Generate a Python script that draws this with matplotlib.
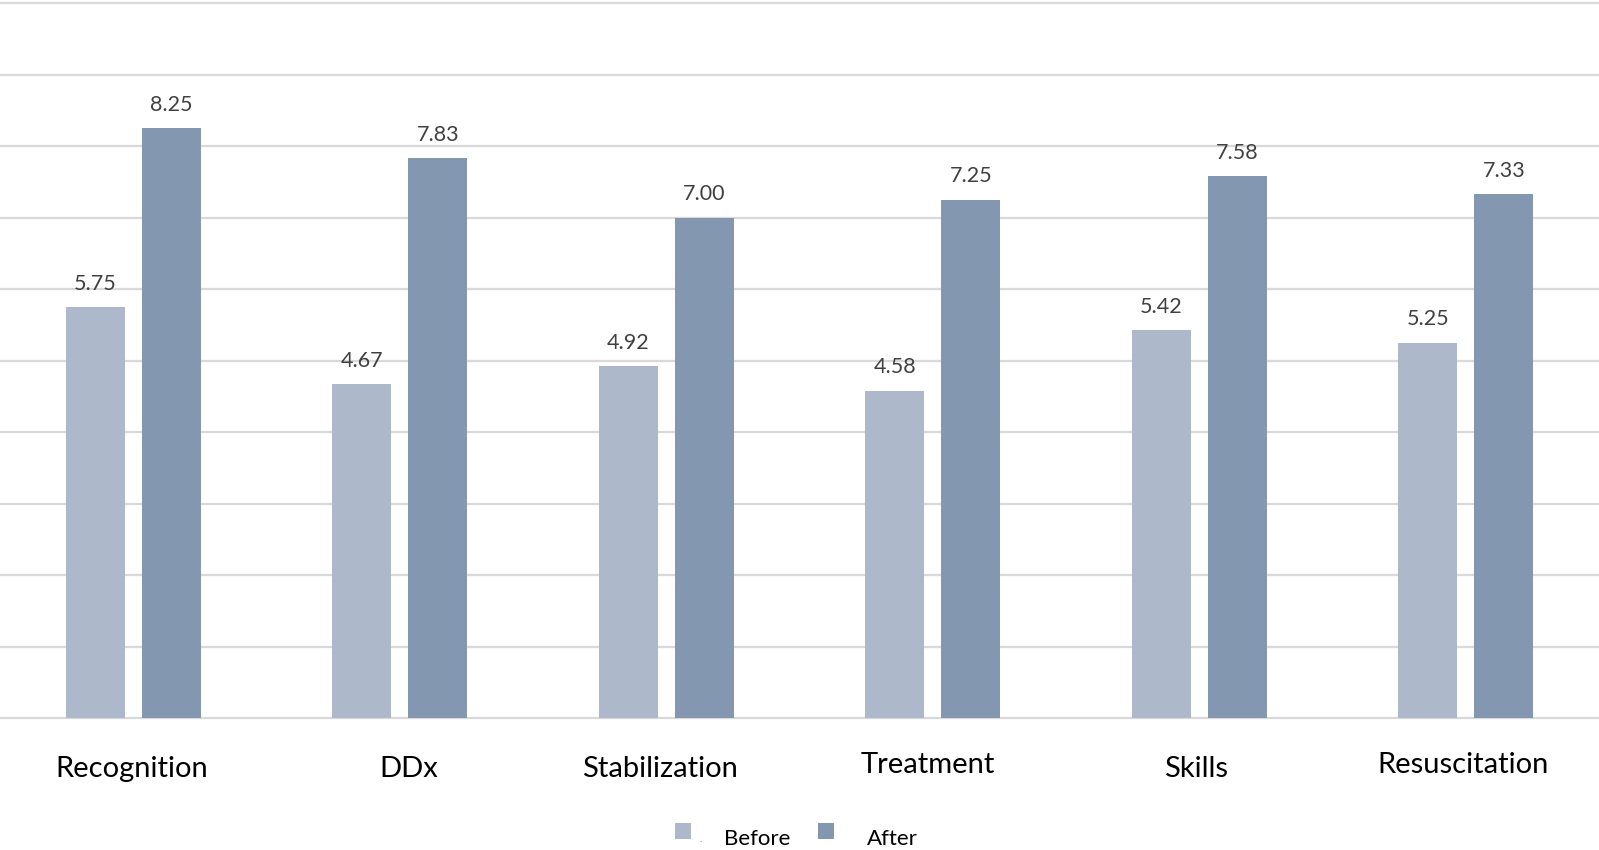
import matplotlib
matplotlib.use("Agg")
import matplotlib.pyplot as plt
import numpy as np
from matplotlib.patches import Rectangle

categories = ["Recognition", "DDx", "Stabilization", "Treatment", "Skills", "Resuscitation"]
before = [5.75, 4.67, 4.92, 4.58, 5.42, 5.25]
after = [8.25, 7.83, 7.00, 7.25, 7.58, 7.33]
series_names = ["Before", "After"]

# small per-label nudges (pixels) for the category captions
label_dx = [-2, 9, -6, -5, -3, -3]
label_dy = [0, 0, 0, 4, 0, 4]

c_before = "#ADB9CA"
c_after = "#8497B0"
grid_c = "#D9D9D9"
text_c = "#404040"
font = ["Lato", "DejaVu Sans"]

W, H, DPI = 1599, 850, 100
fig = plt.figure(figsize=(W / DPI, H / DPI), dpi=DPI)
ax = fig.add_axes([0.0, 132 / H, 1.0, 715 / H])

x = np.arange(len(categories))
bw = 0.221
off = 0.1426
b1 = ax.bar(x - off, before, bw, color=c_before, zorder=3)
b2 = ax.bar(x + off, after, bw, color=c_after, zorder=3)

ax.set_xlim(-0.5, len(categories) - 0.5)
ax.set_ylim(0, 10)
for v in range(0, 11):
    ax.axhline(v, color=grid_c, lw=1.6, zorder=1, clip_on=False)

for s in ax.spines.values():
    s.set_visible(False)
ax.set_xticks([])
ax.set_yticks([])

for bars, vals in ((b1, before), (b2, after)):
    for r, v in zip(bars, vals):
        ax.annotate(f"{v:.2f}", (r.get_x() + r.get_width() / 2, v),
                    xytext=(0, 9.5), textcoords="offset points",
                    ha="center", va="bottom", fontsize=15.5, color=text_c,
                    family=font)

for i, c in enumerate(categories):
    t = ax.text(i, (-59 + label_dy[i]) / 715, c, ha="center", va="baseline",
                fontsize=21, color="black", family=font,
                transform=ax.get_xaxis_transform())
    t.set_x(i + label_dx[i] / 266.5)

# legend drawn in figure pixel space
def fx(px):
    return px / W

def fy(py):
    return 1 - py / H

legend_items = [(series_names[0], c_before, 675, 724),
                (series_names[1], c_after, 818, 867)]
for name, col, sq_x, tx_x in legend_items:
    fig.add_artist(Rectangle((fx(sq_x), fy(839)), 16 / W, 16 / H,
                             transform=fig.transFigure, facecolor=col,
                             edgecolor="none"))
    fig.text(fx(tx_x), fy(845), name, fontsize=16, color="black",
             family=font, ha="left", va="baseline")
fig.text(fx(700), fy(842), ".", fontsize=5, color="#595959",
         ha="center", va="baseline")

fig.savefig("out.png", dpi=DPI)
